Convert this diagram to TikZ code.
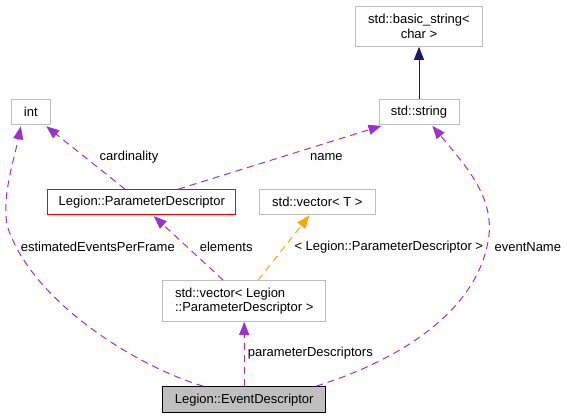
\documentclass[tikz,border=0pt]{standalone}
\usepackage{fontspec}
\setmainfont{Liberation Sans}
\usetikzlibrary{arrows.meta}
\definecolor{boxgray}{HTML}{BFBFBF}
\definecolor{edgepurple}{HTML}{9A32CD}
\definecolor{edgeorange}{HTML}{FFA500}
\definecolor{edgenavy}{HTML}{191970}
\tikzset{
  cls/.style={draw=boxgray, line width=1pt, inner sep=0pt, minimum height=25.3pt},
  lbl/.style={inner sep=0pt},
  tipstyle/.style={-{Triangle[length=13pt,width=10pt]}},
  purp/.style={draw=edgepurple, line width=1pt, dash pattern=on 7pt off 5pt, tipstyle},
  orng/.style={draw=edgeorange, line width=1pt, dash pattern=on 7pt off 5pt, tipstyle},
  navy/.style={draw=edgenavy, line width=1pt, tipstyle},
}
\begin{document}
\begin{tikzpicture}[x=1pt, y=-1pt, font=\fontsize{13}{14.5}\selectfont]
\useasboundingbox (0,0) rectangle (567,419);
% nodes
\node[cls, minimum width=126.6pt, minimum height=40pt, align=center] (bs) at (419,26.3) {std::basic\_string<\\char >};
\node[cls, minimum width=80pt] (str) at (419,111.7) {std::string};
\node[cls, minimum width=39pt] (int) at (30.8,111.7) {int};
\node[cls, draw=red, minimum width=188.3pt] (pd) at (141.8,202.3) {Legion::ParameterDescriptor};
\node[cls, minimum width=116pt] (vt) at (317.3,202.3) {std::vector< T >};
\node[cls, minimum width=163pt, minimum height=40.6pt, align=left] (vl) at (244.2,301) {std::vector< Legion\\::ParameterDescriptor >};
\node[cls, draw=black, fill=boxgray, minimum width=163pt, minimum height=26.3pt] (ed) at (244.2,399.8) {Legion::EventDescriptor};
% labels
\node[lbl] (lcard) at (129,156.7) {cardinality};
\node[lbl] (lname) at (326.3,156.7) {name};
\node[lbl] (lest) at (97.8,246.7) {estimatedEventsPerFrame};
\node[lbl] (lelem) at (226.2,246.7) {elements};
\node[lbl] (ltmpl) at (388.8,246.7) {< Legion::ParameterDescriptor >};
\node[lbl] (levt) at (527.8,246.7) {eventName};
\node[lbl] (lparam) at (310.3,353.3) {parameterDescriptors};
% edges
\draw[navy] (str.north) -- (bs.south);
\draw[purp] ([xshift=-16.8pt]pd.north) -- ([xshift=-4.6pt,yshift=-1.4pt]int.south east);
\draw[purp] ([xshift=36.5pt]pd.north) -- ([xshift=3pt,yshift=-1pt]str.south west);
\draw[purp] ([xshift=-21pt]vl.north) -- ([xshift=12pt,yshift=-0.7pt]pd.south);
\draw[orng] ([xshift=14pt]vl.north) -- ([xshift=-8pt]vt.south);
\draw[purp] (ed.north) -- (vl.south);
\draw[purp] ([xshift=-41pt]ed.north) .. controls (135,366) and (30,300) .. (7,225)
  .. controls (2,195) and (14,160) .. ([xshift=-10pt,yshift=-1.5pt]int.south);
\draw[purp] ([xshift=72pt]ed.north) .. controls (400,360) and (480,310) .. (489,235)
  .. controls (493,195) and (465,165) .. ([xshift=13.3pt,yshift=-1pt]str.south);
\end{tikzpicture}
\end{document}
